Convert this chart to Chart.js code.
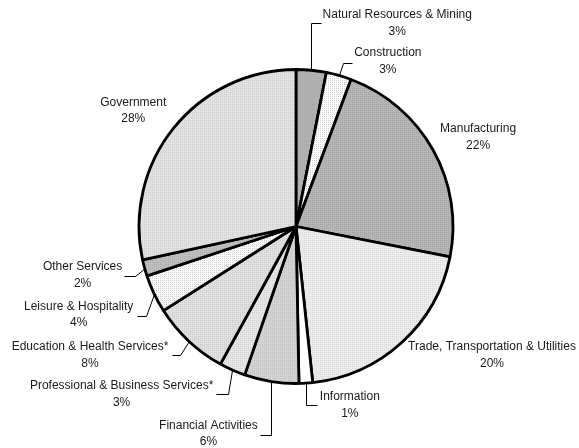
<!DOCTYPE html>
<html><head><meta charset="utf-8">
<script src="https://cdn.jsdelivr.net/npm/chart.js@4"></script>
<style>html,body{margin:0;padding:0;background:#fff}#wrap{width:579px;height:448px;position:relative}</style>
</head><body><div id="wrap"><canvas id="c" width="579" height="448"></canvas></div>
<script>
// ---- data ----
const categories = [
  'Natural Resources & Mining', 'Construction', 'Manufacturing',
  'Trade, Transportation & Utilities', 'Information', 'Financial Activities',
  'Professional & Business Services*', 'Education & Health Services*',
  'Leisure & Hospitality', 'Other Services', 'Government'
];
const shares = [3.1, 2.6, 22.4, 20.2, 1.4, 5.6, 2.7, 8.0, 3.9, 1.7, 28.4];
const percentLabels = shares.map(v => Math.round(v) + '%');

// ---- styles ----
const fills = [
  ['#b3b3b3', '#a6a6a6'], ['#ffffff', '#cfcfcf'], ['#b6b6b6', '#a3a3a3'],
  ['#ededed', '#d9d9d9'], ['#ffffff', '#ffffff'], ['#d3d3d3', '#c2c2c2'],
  ['#e6e6e6', '#d2d2d2'], ['#e0e0e0', '#cdcdcd'], ['#fafafa', '#d0d0d0'],
  ['#bfbfbf', '#adadad'], ['#e2e2e2', '#d0d0d0']
];
// label layout relative to each slice's outer mid-point: leader points and text centre
const labelLayout = [
  {leader: [[0,0],[0,-47],[10,-47]], text: [86,-47]},
  {leader: [[0,0],[4,-12],[13,-12]], text: [49,-14]},
  {leader: null, text: [45,-13]},
  {leader: null, text: [90,13]},
  {leader: [[0,0],[0,22],[11,22]], text: [44,22]},
  {leader: [[0,0],[0,53],[-11,53]], text: [-63,52]},
  {leader: [[0,0],[-4,24],[-16,24]], text: [-110.7,24]},
  {leader: [[0,0],[-8.5,14],[-17,14]], text: [-98.5,14]},
  {leader: [[0,0],[-8.5,22],[-17.5,22]], text: [-75.5,21]},
  {leader: [[0,0],[-10,8],[-21,8]], text: [-62,7]},
  {leader: null, text: [-40.5,-17.4]}
];

function makePattern(base, dot) {
  const t = document.createElement('canvas');
  t.width = 4; t.height = 4;
  const g = t.getContext('2d');
  g.fillStyle = base; g.fillRect(0, 0, 4, 4);
  g.fillStyle = dot;
  g.fillRect(0, 0, 1, 1); g.fillRect(2, 2, 1, 1);
  g.fillRect(2, 0, 1, 1); g.fillRect(0, 2, 1, 1);
  const ctx = document.getElementById('c').getContext('2d');
  return ctx.createPattern(t, 'repeat');
}

const labelPlugin = {
  id: 'outLabels',
  afterDraw(chart) {
    const ctx = chart.ctx;
    const meta = chart.getDatasetMeta(0);
    ctx.save();
    ctx.font = '12px "Liberation Sans", Arial, sans-serif';
    ctx.fillStyle = '#1a1a1a';
    ctx.strokeStyle = '#000';
    ctx.lineWidth = 1;
    ctx.textAlign = 'center';
    ctx.textBaseline = 'middle';
    meta.data.forEach((arc, i) => {
      const mid = (arc.startAngle + arc.endAngle) / 2;
      const px = arc.x + Math.cos(mid) * arc.outerRadius;
      const py = arc.y + Math.sin(mid) * arc.outerRadius;
      const L = labelLayout[i];
      if (L.leader) {
        ctx.beginPath();
        L.leader.forEach((p, k) => {
          const x = Math.round(px + p[0]) + 0.5, y = Math.round(py + p[1]) + 0.5;
          if (k === 0) ctx.moveTo(x, y); else ctx.lineTo(x, y);
        });
        ctx.stroke();
      }
      const tx = px + L.text[0], ty = py + L.text[1];
      ctx.fillText(categories[i], tx, ty - 8.3);
      ctx.fillText(percentLabels[i], tx, ty + 8.3);
    });
    ctx.restore();
  }
};

new Chart(document.getElementById('c'), {
  type: 'pie',
  data: {
    labels: categories,
    datasets: [{
      data: shares,
      backgroundColor: fills.map(f => makePattern(f[0], f[1])),
      borderColor: '#000',
      borderWidth: 2.8
    }]
  },
  options: {
    responsive: false,
    animation: false,
    radius: 157,
    layout: {padding: {left: 80, right: 67, top: 40, bottom: 35}},
    plugins: {legend: {display: false}, tooltip: {enabled: false}}
  },
  plugins: [labelPlugin]
});
</script>
</body></html>
